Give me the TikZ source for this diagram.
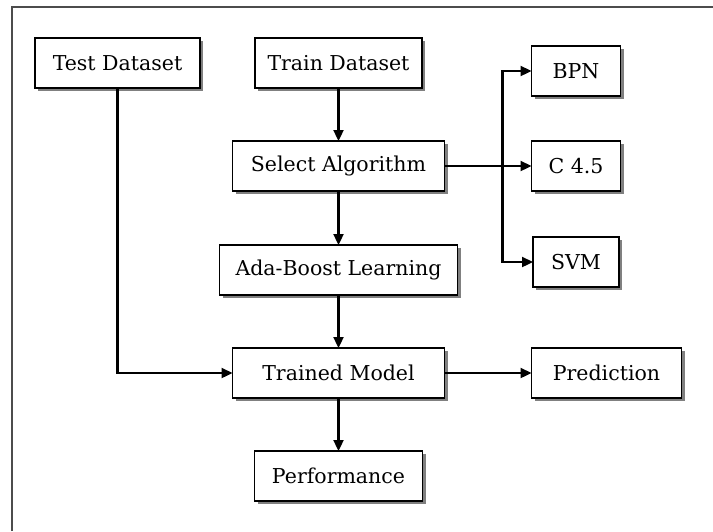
\documentclass[tikz,border=0pt]{standalone}
\usepackage{fontspec}
\setmainfont{DejaVu Serif}
\usetikzlibrary{arrows.meta,positioning,shadows}

\begin{document}
\begin{tikzpicture}[x=1pt, y=1pt, node distance=53pt and 87pt,
  box/.style={draw, line width=1.2pt, fill=white, minimum height=50pt, inner sep=0pt, outer sep=0pt, font=\fontsize{20.5}{24}\selectfont, drop shadow={shadow xshift=3pt, shadow yshift=-3pt, fill=black!50, opacity=1}},
  flow/.style={line width=2.3pt, -{Triangle[length=11pt,width=10pt]}}]
\useasboundingbox (0,0) rectangle (713,-531);
\draw[line width=1.3pt, black!70] (12,-531) -- (12,-7) -- (713,-7);
\node[box, minimum width=167pt] (train) at (338.5,-63) {Train Dataset};
\node[box, minimum width=165pt, left=55pt of train] (test) {Test Dataset};
\node[box, minimum width=212pt, below=of train] (select) {Select Algorithm};
\node[box, minimum width=89pt, right=of select] (c45) {C 4.5};
\node[box, minimum width=89pt, above=45pt of c45] (bpn) {BPN};
\node[box, minimum width=86pt, below=46pt of c45] (svm) {SVM};
\node[box, minimum width=238pt, below=54pt of select] (ada) {Ada-Boost Learning};
\node[box, minimum width=212pt, below=of ada] (model) {Trained Model};
\node[box, minimum width=150pt, right=of model] (pred) {Prediction};
\node[box, minimum width=168pt, below=of model] (perf) {Performance};
\coordinate[right=58pt of select] (fork);
\draw[flow] (train) -- (select);
\draw[flow] (select) -- (ada);
\draw[flow] (ada) -- (model);
\draw[flow] (model) -- (perf);
\draw[flow] (model) -- (pred);
\draw[flow] (test) |- (model);
\draw[flow] (select) -- (c45);
\draw[flow] (fork) |- (bpn);
\draw[flow] (fork) |- (svm);
\end{tikzpicture}
\end{document}
